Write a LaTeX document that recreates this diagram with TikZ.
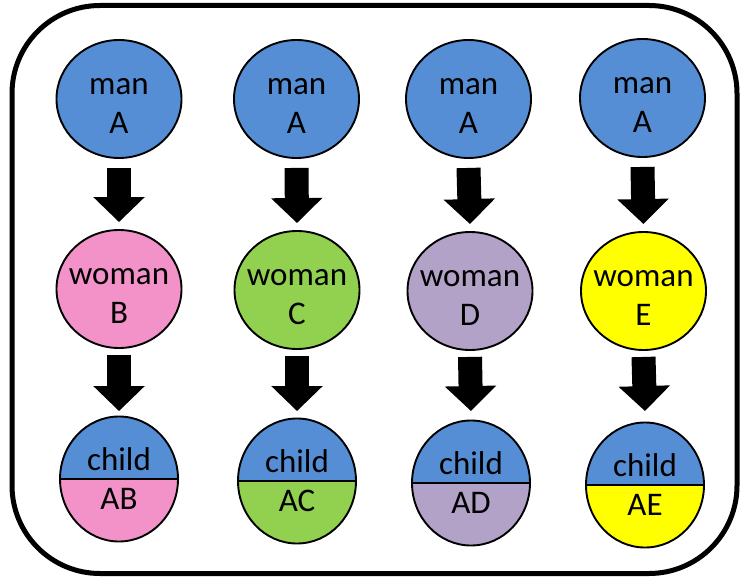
\documentclass[tikz,border=0pt]{standalone}
\usepackage{fontspec}
\setmainfont{Carlito}
\usetikzlibrary{shapes.geometric,arrows.meta}
\definecolor{cblue}{HTML}{558ED5}
\definecolor{cpink}{HTML}{F292C8}
\definecolor{cgreen}{HTML}{92D050}
\definecolor{cpurple}{HTML}{B2A2C7}
\definecolor{cyellow}{HTML}{FFFF00}
\begin{document}
\begin{tikzpicture}[x=1pt,y=-1pt,
  person/.style={ellipse, draw=black, line width=1.9pt, inner sep=0pt},
  manc/.style={person, fill=cblue, minimum width=125pt, minimum height=118pt},
  womanc/.style={person, fill=#1, minimum width=125pt, minimum height=118pt},
  childc/.style={person, minimum width=118pt, minimum height=125pt,
    path picture={
      \fill[cblue] (path picture bounding box.north west) rectangle (path picture bounding box.east);
      \fill[#1] (path picture bounding box.west) rectangle (path picture bounding box.south east);
      \draw[line width=1.9pt] (path picture bounding box.west) -- (path picture bounding box.east);
    }},
  txt/.style={align=center, inner sep=0pt, font=\fontsize{33}{39}\selectfont},
  blockarrow/.style={line width=24pt, -{Triangle[width=50pt,length=25pt]}}]
\useasboundingbox (0,0) rectangle (741,577);
\draw[line width=5pt, rounded corners=88pt] (12,5.5) rectangle (737,573.5);
% column 1
\node[manc] (m1) at (119,99) {};
\node[womanc=cpink] (w1) at (119,289) {};
\node[childc=cpink] (c1) at (119,479) {};
% column 2
\node[manc] (m2) at (296.5,99) {};
\node[womanc=cgreen] (w2) at (297,290) {};
\node[childc=cgreen] (c2) at (297,481) {};
% column 3
\node[manc] (m3) at (468.5,99) {};
\node[womanc=cpurple] (w3) at (470,291) {};
\node[childc=cpurple] (c3) at (471,483) {};
% column 4
\node[manc] (m4) at (642.5,98) {};
\node[womanc=cyellow] (w4) at (643.5,291) {};
\node[childc=cyellow] (c4) at (645,485) {};
% texts
\node[txt] (tm1) at ([yshift=-7pt]m1.center) {man\\A};
\node[txt] (tm2) at ([yshift=-7pt]m2.center) {man\\A};
\node[txt] (tm3) at ([yshift=-7pt]m3.center) {man\\A};
\node[txt] (tm4) at ([yshift=-7pt]m4.center) {man\\A};
\node[txt] (tw1) at ([yshift=-7pt]w1.center) {woman\\B};
\node[txt] (tw2) at ([yshift=-7pt]w2.center) {woman\\C};
\node[txt] (tw3) at ([yshift=-7pt]w3.center) {woman\\D};
\node[txt] (tw4) at ([yshift=-7pt]w4.center) {woman\\E};
\node[txt] (tc1) at (c1.center) {child\\AB};
\node[txt] (tc2) at (c2.center) {child\\AC};
\node[txt] (tc3) at (c3.center) {child\\AD};
\node[txt] (tc4) at (c4.center) {child\\AE};
% arrows
\foreach \i/\cy in {1/479,2/481,3/483,4/485}{
  \pgfmathsetmacro{\tipshift}{\cy-474.5}
  \draw[blockarrow] ([yshift=-9pt]m\i.south) -- ([yshift=7pt]w\i.north);
  \draw[blockarrow] ([yshift=-6pt]w\i.south) -- ([yshift=\tipshift pt]c\i.north);
}
\end{tikzpicture}
\end{document}
